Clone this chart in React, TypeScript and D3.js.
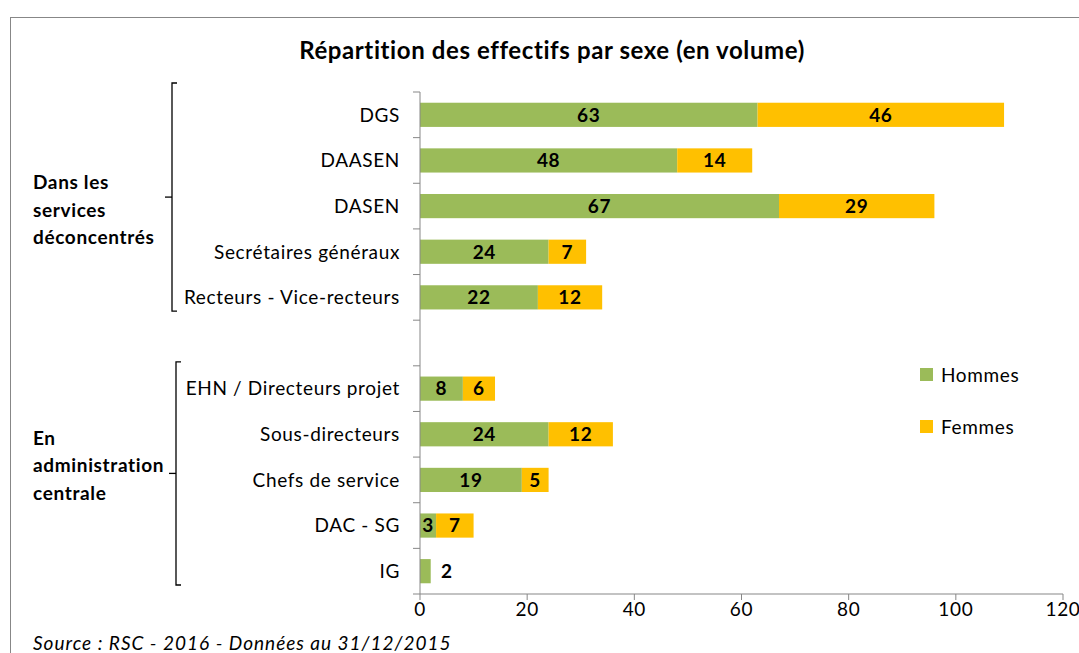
import React from "react";
import * as d3 from "d3";

const categories = [
  "DGS",
  "DAASEN",
  "DASEN",
  "Secrétaires généraux",
  "Recteurs - Vice-recteurs",
  "",
  "EHN / Directeurs projet",
  "Sous-directeurs",
  "Chefs de service",
  "DAC - SG",
  "IG",
];
const hommes = [63, 48, 67, 24, 22, null, 8, 24, 19, 3, 2];
const femmes = [46, 14, 29, 7, 12, null, 6, 12, 5, 7, 0];
const xTicks = [0, 20, 40, 60, 80, 100, 120];
const groups = [
  { lines: ["Dans les", "services", "déconcentrés"], first: 0, last: 4 },
  { lines: ["En", "administration", "centrale"], first: 6, last: 10 },
];
const seriesNames = ["Hommes", "Femmes"];
const colors = ["#9BBB59", "#FFC000"];

const FONT = "Lato, 'Open Sans', sans-serif";
const FS = 19;
const LS = 0.65;

export default function App() {
  const W = 1079, H = 653;
  const x = d3.scaleLinear().domain([0, 120]).range([420, 1063]);
  const keys = categories.map((c, i) => i + ":" + c);
  const y = d3
    .scaleBand<string>()
    .domain(keys)
    .range([92, 594])
    .paddingInner(0.47)
    .paddingOuter(0.235);
  const bandTop = (i: number) => 92 + i * ((594 - 92) / categories.length);
  const bw = y.bandwidth();
  const bracketX = [172, 176];
  const bracketTopAdj = [-9, -4];
  const textOffset = [13, -8];

  return (
    <svg
      width={W}
      height={H}
      style={{ position: "absolute", left: 0, top: 0, background: "#fff" }}
      fontFamily={FONT}
      letterSpacing={LS}
    >
      <rect x={10.5} y={17.5} width={1100} height={700} fill="#fff" stroke="#878787" strokeWidth={1} />
      <text x={552} y={59} textAnchor="middle" fontSize={24} fontWeight="bold" fill="#000" letterSpacing={0.6}>
        Répartition des effectifs par sexe (en volume)
      </text>

      {/* bars */}
      {keys.map((k, i) => {
        const h = hommes[i];
        const f = femmes[i];
        if (h == null || f == null) return null;
        const yy = y(k)!;
        const cy = yy + bw / 2;
        return (
          <g key={k}>
            <rect x={x(0)} y={yy} width={x(h) - x(0)} height={bw} fill={colors[0]} />
            {f > 0 && <rect x={x(h)} y={yy} width={x(h + f) - x(h)} height={bw} fill={colors[1]} />}
            {f > 0 ? (
              <>
                <text x={(x(0) + x(h)) / 2} y={cy} dy="0.36em" textAnchor="middle" fontSize={FS} fontWeight="bold">{h}</text>
                <text x={(x(h) + x(h + f)) / 2} y={cy} dy="0.36em" textAnchor="middle" fontSize={FS} fontWeight="bold">{f}</text>
              </>
            ) : (
              <text x={x(h) + 16} y={cy} dy="0.36em" textAnchor="middle" fontSize={FS} fontWeight="bold">{h}</text>
            )}
          </g>
        );
      })}

      {/* y axis */}
      <line x1={420} x2={420} y1={92} y2={594} stroke="#878787" />
      {d3.range(categories.length + 1).map((i) => (
        <line key={"yt" + i} x1={413} x2={420} y1={bandTop(i)} y2={bandTop(i)} stroke="#878787" />
      ))}
      {keys.map((k, i) => (
        <text key={"yl" + i} x={400} y={y(k)! + bw / 2} dy="0.36em" textAnchor="end" fontSize={FS} fill="#000">
          {categories[i]}
        </text>
      ))}

      {/* x axis */}
      <line x1={420} x2={1063} y1={594} y2={594} stroke="#878787" />
      {xTicks.map((t) => (
        <g key={"xt" + t}>
          <line x1={x(t)} x2={x(t)} y1={594} y2={600} stroke="#878787" />
          <text x={x(t)} y={609} dy="0.36em" textAnchor="middle" fontSize={FS} fill="#000">{t}</text>
        </g>
      ))}

      {/* group brackets */}
      {groups.map((g, gi) => {
        const top = bandTop(g.first) + bracketTopAdj[gi];
        const bot = bandTop(g.last + 1) - 9;
        const bx = bracketX[gi];
        const mid = (top + bot) / 2;
        return (
          <g key={"g" + gi}>
            <path d={`M${bx + 5},${top} H${bx} V${bot} H${bx + 5}`} fill="none" stroke="#000" strokeWidth={1.3} />
            <line x1={bx - 7} x2={bx} y1={mid} y2={mid} stroke="#000" strokeWidth={1.3} />
            {g.lines.map((l, li) => (
              <text key={li} x={33} y={mid + textOffset[gi] + (li - 1) * 27.5} dy="0.36em" fontSize={FS} fontWeight="bold">{l}</text>
            ))}
          </g>
        );
      })}

      {/* legend */}
      {seriesNames.map((s, i) => (
        <g key={s}>
          <rect x={920} y={368 + i * 52} width={13} height={13} fill={colors[i]} />
          <text x={941} y={375 + i * 52} dy="0.36em" fontSize={FS}>{s}</text>
        </g>
      ))}

      <text x={33} y={650} fontSize={FS} fontStyle="italic" letterSpacing={1}>Source : RSC - 2016 - Données au 31/12/2015</text>
    </svg>
  );
}
